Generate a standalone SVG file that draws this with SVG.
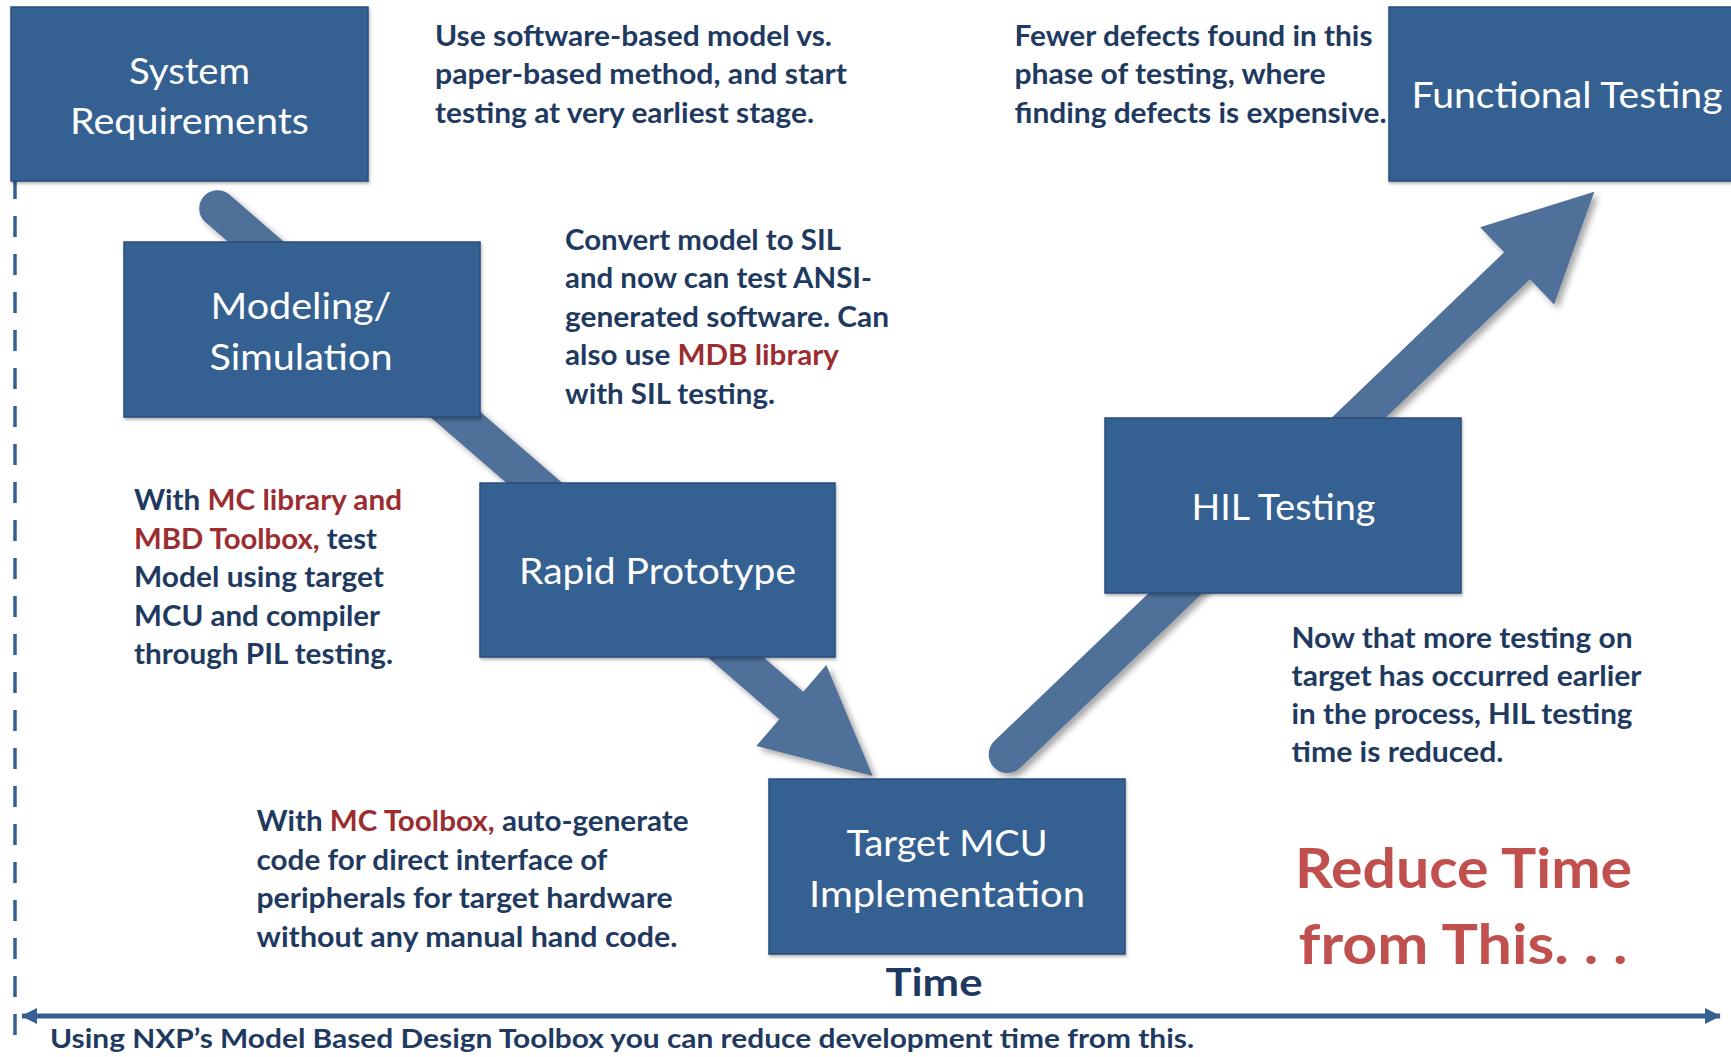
<svg xmlns="http://www.w3.org/2000/svg" width="1731" height="1057" viewBox="0 0 1731 1057">
  <defs>
    <filter id="arrowShadow" x="-10%" y="-10%" width="130%" height="130%">
      <feDropShadow dx="4" dy="4" stdDeviation="3" flood-color="#000" flood-opacity="0.35"/>
    </filter>
    <filter id="boxShadow" x="-5%" y="-5%" width="115%" height="120%">
      <feDropShadow dx="1" dy="2" stdDeviation="1.5" flood-color="#000" flood-opacity="0.3"/>
    </filter>
    <marker id="axisHead" viewBox="0 0 16 16" refX="15" refY="8" markerWidth="16" markerHeight="16" markerUnits="userSpaceOnUse" orient="auto-start-reverse">
      <path d="M0 0 L16 8 L0 16 Z" fill="#366092"/>
    </marker>
    <style>
      .box { fill: #366092; stroke: #2a4d7a; stroke-width: 1.5; filter: url(#boxShadow); }
      .ntext { font-family: Lato, "Liberation Sans", sans-serif; font-size: 37px; fill: #ffffff; text-anchor: middle; }
      .note { font-family: Lato, "Liberation Sans", sans-serif; font-size: 29px; font-weight: bold; fill: #1f3a60; }
      .red { fill: #9b2d30; }
      .big { font-family: Lato, "Liberation Sans", sans-serif; font-size: 56px; font-weight: bold; fill: #c0504d; }
      .time { font-family: Lato, "Liberation Sans", sans-serif; font-size: 39px; font-weight: bold; fill: #1f3a60; text-anchor: middle; }
      .foot { font-family: Lato, "Liberation Sans", sans-serif; font-size: 26px; font-weight: bold; fill: #1f3a60; }
      .arrow { fill: #4f6f98; filter: url(#arrowShadow); }
    </style>
  </defs>
  <rect x="0" y="0" width="1731" height="1057" fill="#ffffff"/>

  <g id="connectors">
    <path class="arrow" d="M 229.0 194.2 L 803.3 691.7 L 826.3 665.1 L 872.7 776 L 756.3 745.9 L 779.3 719.3 L 205.0 221.8 A 18.3 18.3 0 0 1 229.0 194.2 Z"/>
    <path class="arrow" d="M 993.8 741.5 L 1504.2 252.3 L 1480.1 227.2 L 1594.3 191.7 L 1554.1 304.4 L 1530.0 279.3 L 1019.6 768.5 A 18.7 18.7 0 0 1 993.8 741.5 Z"/>
    <line x1="15" y1="178" x2="15" y2="1036" stroke="#366092" stroke-width="3.5" stroke-dasharray="21 17"/>
    <line x1="22" y1="1016" x2="1720" y2="1016" stroke="#366092" stroke-width="5" marker-start="url(#axisHead)" marker-end="url(#axisHead)"/>
  </g>

  <g id="node-system-requirements">
    <rect class="box" x="11" y="7" width="357" height="174"/>
    <text class="ntext" x="189.5" y="83.5" textLength="121" lengthAdjust="spacingAndGlyphs">System</text>
    <text class="ntext" x="189.5" y="134" textLength="239" lengthAdjust="spacingAndGlyphs">Requirements</text>
  </g>

  <g id="node-modeling-simulation">
    <rect class="box" x="124" y="242" width="356" height="175"/>
    <text class="ntext" x="301" y="318.5" textLength="181" lengthAdjust="spacingAndGlyphs">Modeling/</text>
    <text class="ntext" x="301" y="369.5" textLength="183" lengthAdjust="spacingAndGlyphs">Simulation</text>
  </g>

  <g id="node-rapid-prototype">
    <rect class="box" x="480" y="483" width="355" height="174"/>
    <text class="ntext" x="657.5" y="584" textLength="277" lengthAdjust="spacingAndGlyphs">Rapid Prototype</text>
  </g>

  <g id="node-target-mcu">
    <rect class="box" x="769" y="779" width="356" height="175"/>
    <text class="ntext" x="947" y="856" textLength="201" lengthAdjust="spacingAndGlyphs">Target MCU</text>
    <text class="ntext" x="947" y="907" textLength="276" lengthAdjust="spacingAndGlyphs">Implementation</text>
  </g>

  <g id="node-hil-testing">
    <rect class="box" x="1105" y="418" width="356" height="175"/>
    <text class="ntext" x="1283.5" y="520" textLength="184" lengthAdjust="spacingAndGlyphs">HIL Testing</text>
  </g>

  <g id="node-functional-testing">
    <rect class="box" x="1389" y="7" width="356" height="174"/>
    <text class="ntext" x="1567" y="108" textLength="311" lengthAdjust="spacingAndGlyphs">Functional Testing</text>
  </g>

  <g id="note-software-model">
    <text class="note" x="435" y="45.5" textLength="397" lengthAdjust="spacingAndGlyphs">Use software-based model vs.</text>
    <text class="note" x="435" y="84" textLength="412" lengthAdjust="spacingAndGlyphs">paper-based method, and start</text>
    <text class="note" x="435" y="122.5" textLength="379" lengthAdjust="spacingAndGlyphs">testing at very earliest stage.</text>
  </g>

  <g id="note-sil">
    <text class="note" x="565" y="249.5" textLength="276" lengthAdjust="spacingAndGlyphs">Convert model to SIL</text>
    <text class="note" x="565" y="288" textLength="307" lengthAdjust="spacingAndGlyphs">and now can test ANSI-</text>
    <text class="note" x="565" y="326.5" textLength="324" lengthAdjust="spacingAndGlyphs">generated software. Can</text>
    <text class="note" x="565" y="365" textLength="274" lengthAdjust="spacingAndGlyphs">also use <tspan class="red">MDB library</tspan></text>
    <text class="note" x="565" y="403.5" textLength="210" lengthAdjust="spacingAndGlyphs">with SIL testing.</text>
  </g>

  <g id="note-fewer-defects">
    <text class="note" x="1014.5" y="45.5" textLength="358" lengthAdjust="spacingAndGlyphs">Fewer defects found in this</text>
    <text class="note" x="1014.5" y="84" textLength="311" lengthAdjust="spacingAndGlyphs">phase of testing, where</text>
    <text class="note" x="1014.5" y="122.5" textLength="372" lengthAdjust="spacingAndGlyphs">finding defects is expensive.</text>
  </g>

  <g id="note-pil">
    <text class="note" x="134" y="510" textLength="268" lengthAdjust="spacingAndGlyphs">With <tspan class="red">MC library and</tspan></text>
    <text class="note" x="134" y="548.5" textLength="243" lengthAdjust="spacingAndGlyphs"><tspan class="red">MBD Toolbox,</tspan> test</text>
    <text class="note" x="134" y="587" textLength="250" lengthAdjust="spacingAndGlyphs">Model using target</text>
    <text class="note" x="134" y="625.5" textLength="246" lengthAdjust="spacingAndGlyphs">MCU and compiler</text>
    <text class="note" x="134" y="664" textLength="259" lengthAdjust="spacingAndGlyphs">through PIL testing.</text>
  </g>

  <g id="note-mc-toolbox">
    <text class="note" x="256.5" y="831" textLength="432" lengthAdjust="spacingAndGlyphs">With <tspan class="red">MC Toolbox,</tspan> auto-generate</text>
    <text class="note" x="256.5" y="869.5" textLength="351" lengthAdjust="spacingAndGlyphs">code for direct interface of</text>
    <text class="note" x="256.5" y="908" textLength="416" lengthAdjust="spacingAndGlyphs">peripherals for target hardware</text>
    <text class="note" x="256.5" y="946.5" textLength="421" lengthAdjust="spacingAndGlyphs">without any manual hand code.</text>
  </g>

  <g id="note-hil">
    <text class="note" x="1291.5" y="647.5" textLength="341" lengthAdjust="spacingAndGlyphs">Now that more testing on</text>
    <text class="note" x="1291.5" y="685.5" textLength="350" lengthAdjust="spacingAndGlyphs">target has occurred earlier</text>
    <text class="note" x="1291.5" y="724" textLength="341" lengthAdjust="spacingAndGlyphs">in the process, HIL testing</text>
    <text class="note" x="1291.5" y="762" textLength="212" lengthAdjust="spacingAndGlyphs">time is reduced.</text>
  </g>

  <g id="note-reduce-time">
    <text class="big" x="1295" y="888" textLength="337" lengthAdjust="spacingAndGlyphs">Reduce Time</text>
    <text class="big" x="1298.5" y="964" textLength="329" lengthAdjust="spacingAndGlyphs">from This. . .</text>
  </g>

  <g id="axis-labels">
    <text class="time" x="934" y="996" textLength="97" lengthAdjust="spacingAndGlyphs">Time</text>
    <text class="foot" x="50" y="1048" textLength="1144" lengthAdjust="spacingAndGlyphs">Using NXP’s Model Based Design Toolbox you can reduce development time from this.</text>
  </g>
</svg>
